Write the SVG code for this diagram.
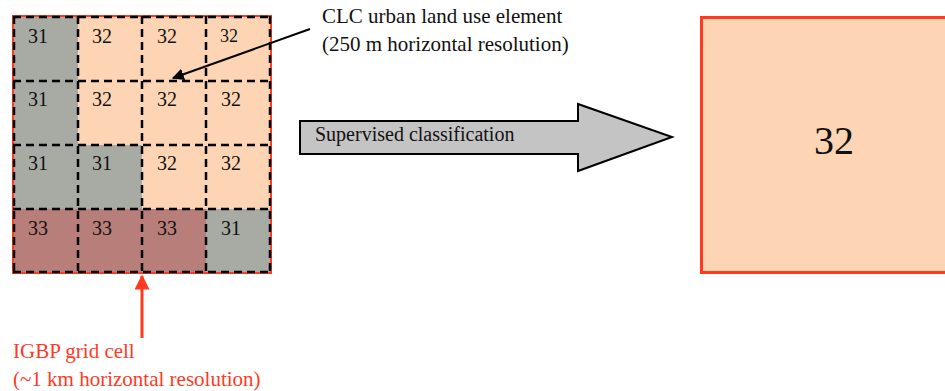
<svg xmlns="http://www.w3.org/2000/svg" width="945" height="391" viewBox="0 0 945 391">
<defs>
<style>
text{font-family:"Liberation Serif","Times New Roman",serif;fill:#111}
.l{font-size:21px}
.n{font-size:20px}
.big{font-size:40px}
.r{fill:#ff3a1f}
.g{fill:#a8aaa4}
.p{fill:#fdd5b4}
.d{fill:#b77e7a}
.dash{stroke:#000;stroke-width:2.5;stroke-dasharray:8,5;fill:none}
</style>
<marker id="ah" viewBox="0 0 10 10" refX="9" refY="5" markerWidth="6" markerHeight="6" orient="auto"><path d="M0,0 L10,5 L0,10 z" fill="#000"/></marker>
<marker id="ahr" viewBox="0 0 10 10" refX="9" refY="5" markerWidth="5" markerHeight="5" orient="auto"><path d="M0,0 L10,5 L0,10 z" fill="#ff3a1f"/></marker>
</defs>
<rect width="945" height="391" fill="#fff"/>
<g id="grid">
<rect x="13" y="16" width="258" height="257" class="p"/>
<rect x="13" y="16" width="65" height="193" class="g"/>
<rect x="78" y="145" width="64" height="64" class="g"/>
<rect x="206" y="209" width="65" height="64" class="g"/>
<rect x="13" y="209" width="193" height="64" class="d"/>
<rect x="13" y="16" width="258" height="257" fill="none" stroke="#ff3a1f" stroke-width="2"/>
<path class="dash" d="M13,17H271M13,81H271M13,145H271M13,209H271M13,272H271M14,16V273M78,16V273M142,16V273M206,16V273M270,16V273"/>
<g class="n">
<text x="28" y="43">31</text><text x="92" y="43">32</text><text x="157" y="43">32</text><text x="220" y="42" style="font-size:18px">32</text>
<text x="28" y="106">31</text><text x="92" y="106">32</text><text x="157" y="106">32</text><text x="221" y="106">32</text>
<text x="28" y="170">31</text><text x="92" y="170">31</text><text x="157" y="170">32</text><text x="221" y="170">32</text>
<text x="28" y="235">33</text><text x="92" y="235">33</text><text x="157" y="235">33</text><text x="221" y="235">31</text>
</g>
</g>
<g id="result">
<rect x="701.5" y="17.5" width="260" height="255" class="p" stroke="#ff3a1f" stroke-width="3"/>
<text x="834" y="154" class="big" text-anchor="middle">32</text>
</g>
<g id="bigarrow">
<path d="M300,121H578V104L672,137L578,171V154H300Z" fill="#c4c4c4" stroke="#000" stroke-width="2" stroke-linejoin="miter"/>
<text x="315" y="141" class="n">Supervised classification</text>
</g>
<g id="clc-label" class="l">
<text x="322" y="23">CLC urban land use element</text>
<text x="322" y="51">(250 m horizontal resolution)</text>
</g>
<g id="igbp-label" class="l">
<text x="13" y="358" class="r">IGBP grid cell</text>
<text x="13" y="386" class="r">(~1 km horizontal resolution)</text>
</g>
<g id="connectors">
<line x1="310" y1="29" x2="173" y2="78" stroke="#000" stroke-width="2" marker-end="url(#ah)"/>
<line x1="142" y1="338" x2="142" y2="276" stroke="#ff3a1f" stroke-width="3" marker-end="url(#ahr)"/>
</g>
</svg>
